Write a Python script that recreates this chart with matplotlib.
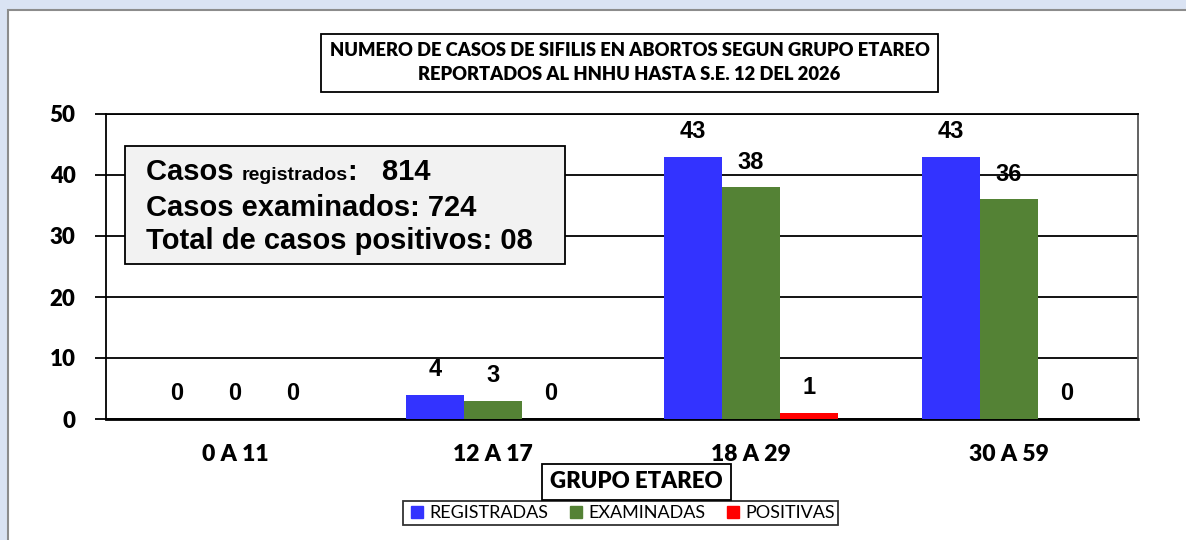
import matplotlib
matplotlib.use("Agg")
import matplotlib.pyplot as plt
import numpy as np
from matplotlib.patches import Rectangle
from matplotlib.lines import Line2D

categories = ["0 A 11", "12 A 17", "18 A 29", "30 A 59"]
registradas = [0, 4, 43, 43]
examinadas = [0, 3, 38, 36]
positivas = [0, 0, 1, 0]
series_names = ["REGISTRADAS", "EXAMINADAS", "POSITIVAS"]
series_colors = ["#3333ff", "#548235", "#ff0000"]
yticks = [0, 10, 20, 30, 40, 50]
title_lines = ["NUMERO DE CASOS DE SIFILIS EN ABORTOS SEGUN GRUPO ETAREO",
               "REPORTADOS AL HNHU HASTA S.E. 12 DEL 2026"]
xlabel = "GRUPO ETAREO"

CAL = ["Lato", "DejaVu Sans"]
ARI = ["Liberation Sans", "DejaVu Sans"]
CW = "heavy"

fig = plt.figure(figsize=(11.86, 5.40), dpi=100)
fig.patch.set_facecolor("#dae3f3")
# white chart sheet
fig.add_artist(Rectangle((8/1186, -0.01), 1.0, 1.01 - 10/540, transform=fig.transFigure,
                         facecolor="white", edgecolor="#8c8c8c", lw=1.5, zorder=-5))

ax = fig.add_axes([106/1186, 1 - 419/540, (1138-106)/1186, (419-114)/540])
ax.set_zorder(1)
ax.set_facecolor("white")

x = np.arange(len(categories))
w = 0.225
all_series = [registradas, examinadas, positivas]
for i, (vals, name, col) in enumerate(zip(all_series, series_names, series_colors)):
    pos = x + (i - 1) * w
    ax.bar(pos, vals, width=w, color=col, label=name, zorder=3)
    for px, v in zip(pos, vals):
        ax.annotate(str(v), (px, v), xytext=(0, 18), textcoords="offset points",
                    ha="center", va="center", fontsize=17, fontweight="bold",
                    family=ARI, zorder=5)

ax.set_xlim(-0.5, len(categories) - 0.5)
ax.set_ylim(0, 50)
ax.set_yticks(yticks, labels=[str(t) for t in yticks], fontweight=CW, family=CAL, fontsize=16)
ax.set_xticks(x, labels=categories, fontweight=CW, family=CAL, fontsize=16.5)
ax.yaxis.grid(True, color="black", lw=1.3, zorder=1)
ax.set_axisbelow(True)
for s in ax.spines.values():
    s.set_color("black")
    s.set_linewidth(1.3)
ax.spines["bottom"].set_linewidth(2)
ax.spines["right"].set_color("#555555")
ax.tick_params(axis="y", length=8, width=1.3, pad=14)
ax.tick_params(axis="x", length=0, pad=18)

# title
fig.text((322+937)/2/1186, 1 - 63/540, "\n".join(title_lines), ha="center", va="center",
         fontsize=13.2, fontweight=CW, family=CAL, linespacing=1.5,
         bbox=dict(boxstyle="square,pad=0.45", facecolor="white", edgecolor="black", lw=1.3))

# info box
fig.add_artist(Rectangle((125/1186, 1 - 264/540), (565-125)/1186, (264-146)/540,
                         transform=fig.transFigure, facecolor="#f2f2f2",
                         edgecolor="black", lw=1.3, zorder=4))
fs = 21
ty = [172, 208, 241]
t1 = fig.text(146/1186, 1 - ty[0]/540, "Casos ", fontsize=fs, fontweight="bold", family=ARI,
              va="center", ha="left", zorder=6)
fig.canvas.draw()
r = fig.canvas.get_renderer()
bb = t1.get_window_extent(r)
t2 = fig.text(bb.x1/1186, 1 - (ty[0]+3)/540, "registrados", fontsize=14, fontweight="bold",
              family=ARI, va="center", ha="left", zorder=6)
bb2 = t2.get_window_extent(r)
fig.text(bb2.x1/1186, 1 - ty[0]/540, ":   814", fontsize=fs, fontweight="bold", family=ARI,
         va="center", ha="left", zorder=6)
fig.text(146/1186, 1 - ty[1]/540, "Casos examinados: 724", fontsize=fs, fontweight="bold",
         family=ARI, va="center", ha="left", zorder=6)
fig.text(146/1186, 1 - ty[2]/540, "Total de casos positivos: 08", fontsize=fs, fontweight="bold",
         family=ARI, va="center", ha="left", zorder=6)

# x label box
fig.text((540+733)/2/1186, 1 - 482/540, xlabel, ha="center", va="center", fontsize=16,
         fontweight=CW, family=CAL, zorder=6,
         bbox=dict(boxstyle="square,pad=0.35", facecolor="white", edgecolor="black", lw=1.3))

# legend
handles = [Line2D([], [], marker="s", linestyle="none", markersize=9, color=c) for c in series_colors]
leg = fig.legend(handles, series_names, loc="center", bbox_to_anchor=((405+836)/2/1186, 1 - 513/540),
                 ncol=3, frameon=True, fancybox=False, edgecolor="black",
                 prop={"family": CAL, "size": 13}, handletextpad=0.1, columnspacing=0.9,
                 borderpad=0.2, handlelength=1.2, borderaxespad=0)
leg.get_frame().set_linewidth(1.3)
leg.set_zorder(6)

fig.savefig("out.png", dpi=100, facecolor=fig.get_facecolor())
